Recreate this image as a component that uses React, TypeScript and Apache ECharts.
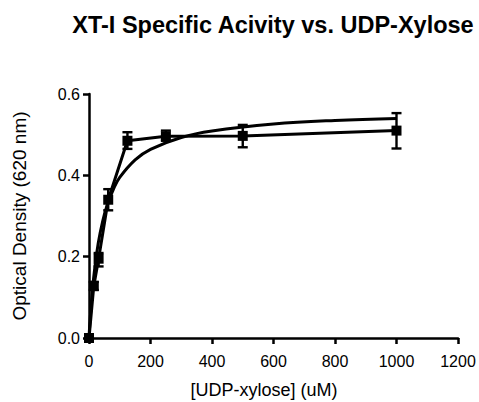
import React, { useEffect, useRef } from "react";
import * as echarts from "echarts";

// Measured points: UDP-xylose concentration (uM) vs. optical density at 620 nm
const concentrations = [0, 15.6, 31.25, 62.5, 125, 250, 500, 1000];
const meanOD = [0, 0.128, 0.195, 0.34, 0.485, 0.496, 0.497, 0.51];
const errorLow = [0, 0.118, 0.176, 0.314, 0.465, 0.485, 0.469, 0.466];
const errorHigh = [0, 0.138, 0.209, 0.366, 0.506, 0.51, 0.524, 0.553];

// Michaelis-Menten fit curve, sampled along the concentration axis
const fitX = [0, 5, 15, 30, 45, 60, 80, 100, 150, 200, 300, 400, 600, 800, 1000];
const fitY = [0, 0.06, 0.147, 0.233, 0.289, 0.329, 0.367, 0.395, 0.438, 0.464, 0.493, 0.509, 0.526, 0.535, 0.54];

const xTicks = { min: 0, max: 1200, interval: 200 };
const yTicks = { min: 0, max: 0.6, interval: 0.2 };

const FONT = "Arial, 'Liberation Sans', sans-serif";

export default function App() {
  const ref = useRef<HTMLDivElement>(null);

  useEffect(() => {
    if (!ref.current) return;
    const chart = echarts.init(ref.current, undefined, { renderer: "svg" });

    const points = concentrations.map((x, i) => [x, meanOD[i]]);
    const bars = concentrations.map((x, i) => [x, errorLow[i], errorHigh[i]]);
    const fit = fitX.map((x, i) => [x, fitY[i]]);

    chart.setOption({
      animation: false,
      backgroundColor: "#ffffff",
      title: {
        text: "XT-I Specific Acivity vs. UDP-Xylose",
        left: 268,
        top: 8,
        textAlign: "center",
        textStyle: { fontFamily: FONT, fontWeight: "bold", fontSize: 23.5, color: "#000" },
      },
      grid: {
        left: 89,
        right: 21,
        top: 94,
        bottom: 64,
        containLabel: false,
        outerBoundsMode: "none",
      },
      xAxis: {
        type: "value",
        min: xTicks.min,
        max: xTicks.max,
        interval: xTicks.interval,
        name: "[UDP-xylose] (uM)",
        nameLocation: "middle",
        nameGap: 43,
        nameTextStyle: { fontFamily: FONT, fontSize: 18, color: "#000", padding: [0, 19, 0, 0] },
        axisLine: { onZero: false, lineStyle: { color: "#000", width: 2.5 } },
        axisTick: { show: true, inside: false, length: 6, lineStyle: { color: "#000", width: 2.5 } },
        axisLabel: {
          fontFamily: FONT,
          fontSize: 16,
          color: "#000",
          margin: 15,
          formatter: (v: number) => String(v),
        },
        splitLine: { show: false },
      },
      yAxis: {
        type: "value",
        min: yTicks.min,
        max: yTicks.max,
        interval: yTicks.interval,
        name: "Optical Density (620 nm)",
        nameLocation: "middle",
        nameGap: 60,
        nameTextStyle: { fontFamily: FONT, fontSize: 19, color: "#000" },
        axisLine: { show: true, onZero: false, lineStyle: { color: "#000", width: 2.5 } },
        axisTick: { show: true, inside: false, length: 6, lineStyle: { color: "#000", width: 2.5 } },
        axisLabel: {
          fontFamily: FONT,
          fontSize: 16,
          color: "#000",
          margin: 9,
          formatter: (v: number) => v.toFixed(1),
        },
        splitLine: { show: false },
      },
      series: [
        {
          type: "line",
          data: fit,
          smooth: 0.4,
          showSymbol: false,
          lineStyle: { color: "#000", width: 3 },
          z: 2,
        },
        {
          type: "line",
          data: points,
          symbol: "rect",
          symbolSize: 10,
          itemStyle: { color: "#000" },
          lineStyle: { color: "#000", width: 3 },
          z: 3,
        },
        {
          type: "custom",
          data: bars,
          z: 4,
          renderItem: (params: any, api: any) => {
            const x = api.value(0);
            const lo = api.coord([x, api.value(1)]);
            const hi = api.coord([x, api.value(2)]);
            const half = 5;
            const style = { stroke: "#000", lineWidth: 2.4 };
            return {
              type: "group",
              children: [
                { type: "line", shape: { x1: lo[0], y1: lo[1], x2: hi[0], y2: hi[1] }, style },
                { type: "line", shape: { x1: lo[0] - half, y1: lo[1], x2: lo[0] + half, y2: lo[1] }, style },
                { type: "line", shape: { x1: hi[0] - half, y1: hi[1], x2: hi[0] + half, y2: hi[1] }, style },
              ],
            };
          },
        },
      ],
    });

    return () => chart.dispose();
  }, []);

  return <div ref={ref} style={{ width: 479, height: 402, position: "absolute", left: 0, top: 0 }} />;
}
